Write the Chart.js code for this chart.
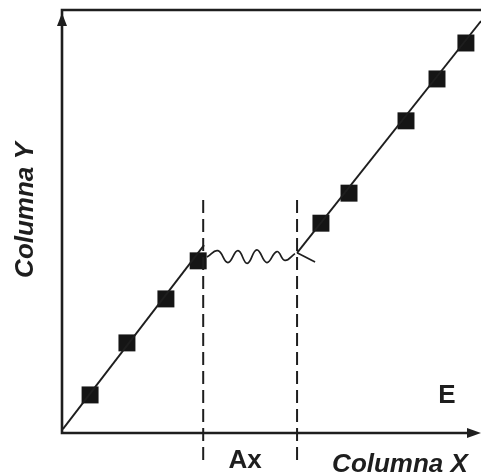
<!DOCTYPE html>
<html>
<head>
<meta charset="utf-8">
<title>Columna X / Columna Y</title>
<script src="https://cdn.jsdelivr.net/npm/chart.js@4/dist/chart.umd.min.js"></script>
<style>
    html, body { margin: 0; padding: 0; background: #fff; }
    #wrap { width: 481px; height: 475px; position: relative; }
</style>
</head>
<body>
<div id="wrap"><canvas id="plot"></canvas></div>
<script>
// measured points (squares)
const pointsX = [0.67, 1.55, 2.48, 3.25, 6.18, 6.85, 8.21, 8.95, 9.64];
const pointsY = [0.90, 2.13, 3.17, 4.07, 4.96, 5.67, 7.38, 8.37, 9.22];

// fitted straight lines
const leftLineX = [0.02, 3.39];
const leftLineY = [0.09, 4.44];
const rightLineX = [5.61, 10];
const rightLineY = [4.26, 9.74];

// wavy plateau between the two dashed lines
const waveX = [3.46, 3.72, 3.96, 4.20, 4.42, 4.65, 4.89, 5.13, 5.32, 5.56];
const waveY = [4.16, 4.31, 4.03, 4.31, 4.01, 4.33, 4.03, 4.29, 4.08, 4.24];
const tailX = [5.61, 6.04];
const tailY = [4.26, 4.04];

// the Ax interval
const dashX = [3.37, 5.61];
const dashY = [-0.64, 5.63];

const ink = '#1e1e1e';
const font = '"Liberation Sans", Arial, sans-serif';

function pairs(xs, ys) {
    return xs.map((x, i) => ({ x: x, y: ys[i] }));
}

function lineSet(xs, ys, extra) {
    return Object.assign({
        data: pairs(xs, ys),
        showLine: true,
        borderColor: ink,
        borderWidth: 1.9,
        pointRadius: 0,
        fill: false
    }, extra || {});
}

const frame = {
    id: 'frame',
    beforeDatasetsDraw(chart) {
        const { ctx, chartArea: a } = chart;
        ctx.save();
        ctx.strokeStyle = ink;
        ctx.fillStyle = ink;
        ctx.lineWidth = 2.6;
        ctx.beginPath();
        ctx.moveTo(a.right, a.top);
        ctx.lineTo(a.left, a.top);
        ctx.lineTo(a.left, a.bottom);
        ctx.lineTo(a.right - 10, a.bottom);
        ctx.stroke();
        // arrow heads
        ctx.beginPath();
        ctx.moveTo(a.left, a.top + 3);
        ctx.lineTo(a.left - 5, a.top + 16);
        ctx.lineTo(a.left + 5, a.top + 16);
        ctx.closePath();
        ctx.fill();
        ctx.beginPath();
        ctx.moveTo(a.right, a.bottom);
        ctx.lineTo(a.right - 14, a.bottom - 5);
        ctx.lineTo(a.right - 14, a.bottom + 5);
        ctx.closePath();
        ctx.fill();
        ctx.restore();
    },
    afterDraw(chart) {
        const { ctx, chartArea: a, scales } = chart;
        ctx.save();
        ctx.fillStyle = ink;
        ctx.textAlign = 'center';
        ctx.textBaseline = 'alphabetic';

        ctx.font = 'italic bold 26px ' + font;
        ctx.fillText('Columna X', 400, a.bottom + 39);

        ctx.save();
        ctx.translate(33, 210);
        ctx.rotate(-Math.PI / 2);
        ctx.fillText('Columna Y', 0, 0);
        ctx.restore();

        ctx.font = 'bold 26px ' + font;
        const mid = (scales.x.getPixelForValue(dashX[0]) + scales.x.getPixelForValue(dashX[1])) / 2;
        ctx.fillText('Ax', mid - 5, a.bottom + 35);
        ctx.fillText('E', 447, 403);
        ctx.restore();
    }
};

document.addEventListener('DOMContentLoaded', () => {
    const ctx = document.getElementById('plot').getContext('2d');
    new Chart(ctx, {
        type: 'scatter',
        data: {
            datasets: [
                lineSet(leftLineX, leftLineY),
                lineSet(rightLineX, rightLineY),
                lineSet(waveX, waveY, { tension: 0.45, borderWidth: 1.7 }),
                lineSet(tailX, tailY, { borderWidth: 1.7 }),
                lineSet([dashX[0], dashX[0]], dashY, { borderDash: [13, 6], borderWidth: 2, clip: false }),
                lineSet([dashX[1], dashX[1]], dashY, { borderDash: [13, 6], borderWidth: 2, clip: false }),
                {
                    data: pairs(pointsX, pointsY),
                    pointStyle: 'rect',
                    pointRadius: 12,
                    pointBackgroundColor: '#151515',
                    pointBorderWidth: 0,
                    showLine: false,
                    clip: false
                }
            ]
        },
        options: {
            responsive: true,
            maintainAspectRatio: false,
            animation: false,
            layout: { autoPadding: false, padding: { left: 62, top: 10, right: 0, bottom: 42 } },
            scales: {
                x: { type: 'linear', min: 0, max: 10, display: false },
                y: { type: 'linear', min: 0, max: 10, display: false }
            },
            plugins: {
                legend: { display: false },
                tooltip: { enabled: false }
            }
        },
        plugins: [frame]
    });
});
</script>
</body>
</html>
